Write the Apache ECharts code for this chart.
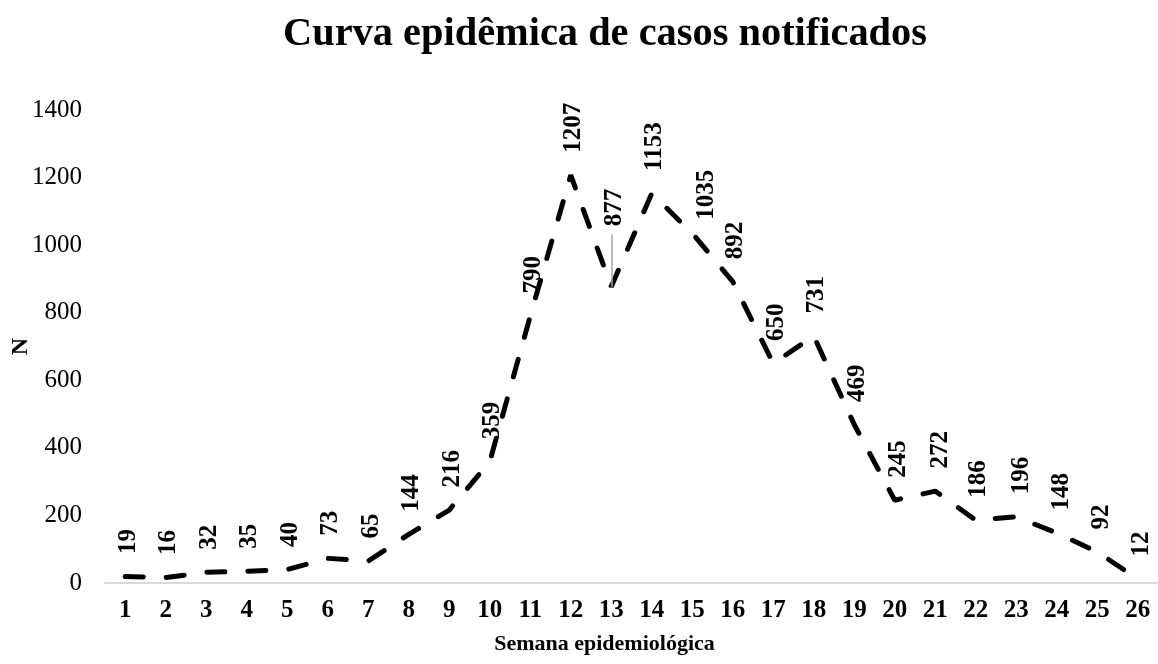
<!DOCTYPE html>
<html><head><meta charset="utf-8">
<script src="https://cdn.jsdelivr.net/npm/echarts@6/dist/echarts.min.js"></script>
<style>html,body{margin:0;padding:0;background:#fff}#c{width:1158px;height:664px}</style>
</head><body><div id="c"></div>
<script>
const titleText = 'Curva epidêmica de casos notificados';
const xName = 'Semana epidemiológica';
const yName = 'N';
const weeks = ['1','2','3','4','5','6','7','8','9','10','11','12','13','14','15','16','17','18','19','20','21','22','23','24','25','26'];
const cases = [19,16,32,35,40,73,65,144,216,359,790,1207,877,1153,1035,892,650,731,469,245,272,186,196,148,92,12];
const yMin = 0, yMax = 1400, yStep = 200;

// label nudges in screen pixels [dx, dy] (style only), keyed by category index
const labelBaseDx = 3;
const labelNudge = {12: [0, -38], 14: [11, 9], 19: [1, 0], 20: [2, 0], 22: [2, 0], 23: [2, 0], 24: [1, 0], 25: [1, 0]};
const leaderIdx = 12, leaderLen = 155;

const FONT = '"Liberation Serif", "DejaVu Serif", serif';
const chart = echarts.init(document.getElementById('c'), null, {renderer: 'canvas'});
chart.setOption({
  backgroundColor: '#fff',
  animation: false,
  title: {text: titleText, left: 600, top: 10, textAlign: 'center',
    textStyle: {fontFamily: FONT, fontWeight: 'bold', fontSize: 40.4, color: '#000'}},
  grid: {left: 105, right: 0, top: 110, bottom: 81, containLabel: false, outerBoundsMode: 'none'},
  xAxis: {type: 'category', data: weeks, boundaryGap: true,
    name: xName, nameLocation: 'middle', nameGap: 50,
    nameTextStyle: {fontFamily: FONT, fontWeight: 'bold', fontSize: 22, color: '#000', padding: [0, 54, 0, 0]},
    axisLine: {lineStyle: {color: '#d9d9d9', width: 2}}, axisTick: {show: false},
    axisLabel: {fontFamily: FONT, fontWeight: 'bold', fontSize: 25, color: '#000', margin: 15, interval: 0}},
  yAxis: {type: 'value', min: yMin, max: yMax, interval: yStep,
    name: yName, nameLocation: 'middle', nameGap: 72, nameRotate: 90, nameMoveOverlap: false,
    nameTextStyle: {fontFamily: FONT, fontWeight: 'bold', fontSize: 24, color: '#000'},
    axisLine: {show: false}, axisTick: {show: false}, splitLine: {show: false},
    axisLabel: {fontFamily: FONT, fontSize: 25, color: '#000', margin: 23, formatter: v => String(v)}},
  series: [{
    type: 'line', data: cases.map((v, i) => {
      const o = labelNudge[i] || [0, 0];
      // label rotated 90deg: local offset [a,b] maps to screen (b,-a)
      return {value: v, label: {offset: [-o[1], o[0] + labelBaseDx]}};
    }),
    showSymbol: true, symbol: 'circle', symbolSize: 1, smooth: false,
    itemStyle: {color: 'rgba(0,0,0,0)'},
    lineStyle: {color: '#000', width: 5, type: [18, 23], cap: 'round'},
    label: {show: true, position: 'top', rotate: 90, align: 'left', verticalAlign: 'middle', distance: 22,
      fontFamily: FONT, fontWeight: 'bold', fontSize: 25, color: '#000'},
    markLine: {silent: true, symbol: 'none', label: {show: false},
      lineStyle: {color: '#a6a6a6', width: 1.5, type: 'solid'},
      data: [[{xAxis: weeks[leaderIdx], yAxis: cases[leaderIdx]}, {xAxis: weeks[leaderIdx], yAxis: cases[leaderIdx] + leaderLen}]]}
  }]
});
</script></body></html>
